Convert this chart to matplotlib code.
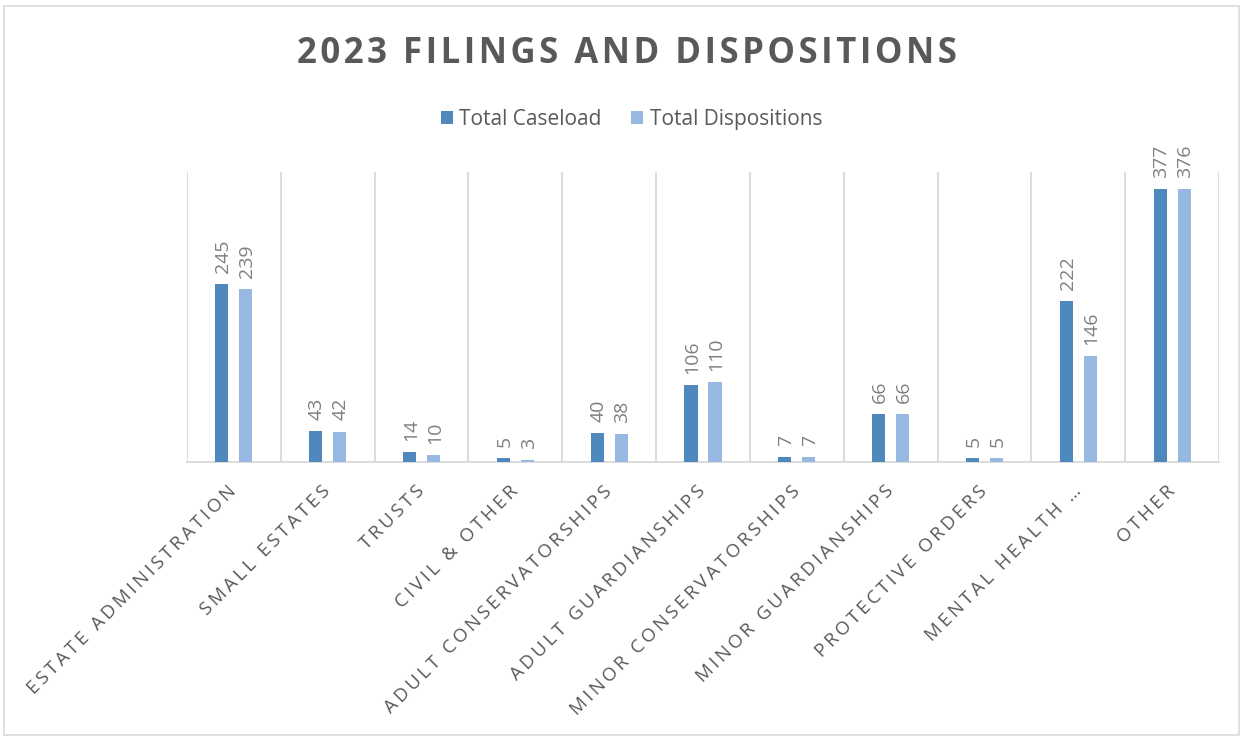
import matplotlib
matplotlib.use("Agg")
import matplotlib.pyplot as plt
import numpy as np
from matplotlib.patches import Rectangle

categories = ["ESTATE ADMINISTRATION", "SMALL ESTATES", "TRUSTS", "CIVIL & OTHER",
              "ADULT CONSERVATORSHIPS", "ADULT GUARDIANSHIPS", "MINOR CONSERVATORSHIPS",
              "MINOR GUARDIANSHIPS", "PROTECTIVE ORDERS", "MENTAL HEALTH …", "OTHER"]
caseload = [245, 43, 14, 5, 40, 106, 7, 66, 5, 222, 377]
dispositions = [239, 42, 10, 3, 38, 110, 7, 66, 5, 146, 376]
series_names = ["Total Caseload", "Total Dispositions"]
title = "2023 FILINGS AND DISPOSITIONS"

C1 = "#4F88BC"
C2 = "#97B8E0"
GRID = "#D9D9D9"
TXT = "#595959"
LBL = "#7F7F7F"
FONT = ["Open Sans", "DejaVu Sans"]

def spaced(s, sp="\u2009"):
    return sp.join(list(s))

fig = plt.figure(figsize=(12.43, 7.36), dpi=100)
fig.patches.append(Rectangle((0.003, 0.002), 0.994, 0.99, transform=fig.transFigure,
                             fill=False, edgecolor=GRID, linewidth=1.2))
ax = fig.add_axes([0.1504, 0.3723, 0.8303, 0.394])

n = len(categories)
x = np.arange(n)
w = 0.14
off = 0.128
b1 = ax.bar(x - off, caseload, width=w, color=C1, label=series_names[0], zorder=3)
b2 = ax.bar(x + off, dispositions, width=w, color=C2, label=series_names[1], zorder=3)

for bars, vals in ((b1, caseload), (b2, dispositions)):
    for r, v in zip(bars, vals):
        ax.annotate(str(v), (r.get_x() + r.get_width() / 2, r.get_height()),
                    xytext=(1, 8), textcoords="offset points", rotation=90,
                    ha="center", va="bottom", fontsize=14, color=LBL, family=FONT)

ax.set_xlim(-0.5, n - 0.5)
ax.set_ylim(0, 400)
ax.set_yticks([])
for xb in np.arange(-0.5, n, 1.0):
    ax.axvline(xb, color=GRID, linewidth=1.3, zorder=1)
for s in ["top", "right", "left"]:
    ax.spines[s].set_visible(False)
ax.spines["bottom"].set_color(GRID)
ax.spines["bottom"].set_linewidth(1.3)

ax.set_xticks(x)
ax.set_xticklabels([spaced(c) for c in categories], rotation=45, ha="right",
                   va="center", rotation_mode="anchor", fontsize=13.5, color=TXT,
                   family=FONT)
ax.tick_params(axis="x", length=0, pad=19)

fig.text(0.5045, 0.927, spaced(title, "\u200a"), ha="center", va="center", fontsize=25,
         fontweight="bold", color=TXT, family=FONT)

leg = fig.legend(handles=[b1, b2], labels=series_names, loc="center",
                 bbox_to_anchor=(0.508, 0.838), ncol=2, frameon=False,
                 prop={"family": FONT, "size": 15}, handlelength=0.6,
                 handleheight=0.6, handletextpad=0.3, columnspacing=1.4)
for t in leg.get_texts():
    t.set_color(TXT)

fig.savefig("out.png", dpi=100)
